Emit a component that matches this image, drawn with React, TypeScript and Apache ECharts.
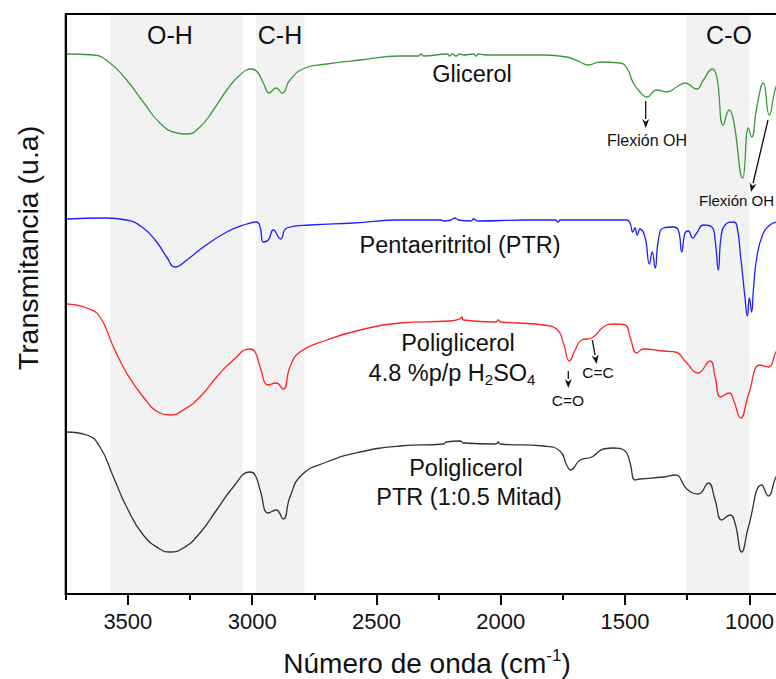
import React, { useEffect, useRef } from "react";
import * as echarts from "echarts";

// Wavenumber (cm-1), transmittance (arbitrary units, offset stacked)
const glicerol: [number, number][] = [
  [3746, 540], [3639, 539], [3572, 531], [3505, 514], [3438, 492], [3371, 471], [3303, 461], [3263, 460],
  [3210, 467], [3156, 484], [3102, 504], [3049, 519], [3002, 525], [2979, 522], [2955, 511], [2931, 501],
  [2904, 506], [2879, 501], [2848, 514], [2787, 526], [2700, 530], [2566, 534], [2405, 538], [2330, 538],
  [2320, 540], [2310, 538], [2215, 540], [2205, 538], [2195, 540], [2180, 538], [2165, 540], [2150, 539],
  [2110, 540], [2100, 538], [2090, 540], [2060, 539], [1829, 539], [1735, 537], [1681, 532],
  [1648, 529], [1601, 532], [1520, 531], [1493, 526], [1467, 511], [1440, 502], [1413, 497], [1373, 504],
  [1332, 502], [1292, 507], [1259, 511], [1212, 505], [1185, 514], [1149, 525], [1131, 517], [1105, 469],
  [1081, 484], [1064, 474], [1027, 416], [1004, 466], [991, 457], [970, 487], [944, 511], [920, 479],
  [893, 507], [870, 515],
];

const pentaeritritol: [number, number][] = [
  [3746, 375], [3592, 376], [3505, 374], [3438, 366], [3384, 352], [3344, 337], [3310, 327], [3263, 334],
  [3196, 347], [3102, 362], [3022, 370], [2982, 372], [2968, 367], [2955, 352], [2935, 354], [2915, 364],
  [2885, 355], [2861, 366], [2767, 369], [2593, 371], [2405, 374], [2240, 374], [2230, 373], [2200, 374],
  [2185, 376], [2170, 374], [2120, 373], [2110, 375], [2090, 373], [1900, 374], [1780, 374], [1770, 372],
  [1760, 374], [1493, 374], [1480, 371], [1469, 362], [1460, 366], [1451, 359], [1440, 365], [1420, 357],
  [1402, 330], [1391, 342], [1379, 326], [1366, 354], [1346, 366], [1306, 367], [1286, 364], [1272, 342],
  [1259, 361], [1246, 363], [1228, 356], [1212, 361], [1185, 369], [1151, 367], [1138, 354], [1125, 324],
  [1114, 357], [1098, 369], [1064, 372], [1051, 369], [1035, 337], [1018, 297], [1008, 278], [1000, 296],
  [991, 282], [984, 304], [970, 337], [944, 361], [917, 369], [893, 372], [870, 374],
];

const poliglicerolH2SO4: [number, number][] = [
  [3746, 290], [3665, 286], [3612, 277], [3558, 247], [3505, 221], [3438, 197], [3371, 181], [3330, 179],
  [3277, 184], [3210, 197], [3143, 217], [3076, 234], [3009, 245], [2988, 242], [2968, 227], [2935, 209],
  [2904, 211], [2875, 205], [2848, 227], [2808, 242], [2700, 254], [2566, 264], [2405, 271], [2204, 273],
  [2165, 275], [2157, 277], [2150, 274], [2020, 272], [2010, 274], [2000, 272], [1936, 271], [1829, 269],
  [1775, 265], [1748, 251], [1724, 233],
  [1701, 244], [1674, 254], [1634, 256], [1587, 267], [1547, 270], [1500, 269], [1480, 257], [1453, 241],
  [1427, 245], [1346, 243], [1298, 242], [1252, 231], [1208, 221], [1158, 233], [1138, 217], [1115, 197],
  [1081, 201], [1064, 194], [1035, 176], [1004, 199], [957, 229], [924, 227], [893, 242], [870, 250],
];

const poliglicerolPTR: [number, number][] = [
  [3746, 162], [3665, 159], [3612, 147], [3558, 117], [3505, 87], [3438, 59], [3371, 45], [3330, 42],
  [3277, 46], [3210, 61], [3143, 84], [3076, 107], [3009, 122], [2988, 119], [2968, 104], [2935, 81],
  [2904, 84], [2875, 75], [2848, 97], [2801, 119], [2700, 132], [2566, 142], [2405, 148], [2230, 150],
  [2220, 152], [2163, 153], [2150, 151], [2020, 150], [2010, 152], [2002, 150], [1829, 148], [1762, 143],
  [1735, 129], [1719, 124], [1681, 134], [1634, 137], [1587, 145],
  [1547, 146], [1500, 143], [1480, 131], [1460, 114], [1440, 115], [1346, 117], [1298, 119], [1252, 105],
  [1205, 100], [1165, 111], [1138, 94], [1111, 74], [1078, 79], [1058, 71], [1031, 42], [1004, 67],
  [950, 109], [924, 98], [893, 117], [870, 124],
];

const bands: [number, number][] = [[3570, 3040], [2985, 2790], [1255, 1000]];
const majorTicks = [3500, 3000, 2500, 2000, 1500, 1000, 500];
const minorTicks = [3750, 3250, 2750, 2250, 1750, 1250, 750];

const FONT = "'Liberation Sans', Arial, sans-serif";

function arrow(x1: number, y1: number, x2: number, y2: number): any[] {
  const a = Math.atan2(y2 - y1, x2 - x1);
  const L = 9, W = 3.5;
  const bx = x2 - L * Math.cos(a), by = y2 - L * Math.sin(a);
  const nx = -Math.sin(a), ny = Math.cos(a);
  return [
    { type: "line", shape: { x1, y1, x2: bx, y2: by }, style: { stroke: "#111", lineWidth: 1.3 }, z: 10 },
    {
      type: "polygon",
      shape: { points: [[x2, y2], [bx + nx * W, by + ny * W], [bx + L * 0.3 * Math.cos(a), by + L * 0.3 * Math.sin(a)], [bx - nx * W, by - ny * W]] },
      style: { fill: "#111" },
      z: 10,
    },
  ];
}

function txt(text: string, x: number, y: number, size: number, align = "center", extra: any = {}): any {
  return {
    type: "text",
    x,
    y,
    z: 10,
    style: { text, font: `${size}px ${FONT}`, fill: "#111", align, verticalAlign: "middle", ...extra },
  };
}

export default function App() {
  const ref = useRef<HTMLDivElement>(null);
  useEffect(() => {
    if (!ref.current) return;
    const chart = echarts.init(ref.current, undefined, { renderer: "svg" });
    const mk = (name: string, data: [number, number][], color: string) => ({
      name,
      type: "line",
      data,
      showSymbol: false,
      smooth: 0.5,
      lineStyle: { color, width: 1.3 },
      z: 3,
    });
    chart.setOption({
      animation: false,
      grid: {
        left: 65.7, top: 14, width: 808, height: 580, show: true, borderColor: "#000", borderWidth: 2,
        outerBoundsMode: "none", containLabel: false,
      },
      xAxis: [
        {
          type: "value",
          min: 500,
          max: 3750,
          interval: 500,
          inverse: true,
          position: "bottom",
          axisLine: { show: true, lineStyle: { color: "#000", width: 2 } },
          axisTick: { show: true, length: 11, lineStyle: { width: 2, color: "#000" }, customValues: majorTicks },
          axisLabel: {
            show: true, fontSize: 22, fontFamily: FONT, color: "#111", margin: 16, showMaxLabel: false,
            customValues: majorTicks, formatter: (v: number) => String(v),
          },
          splitLine: { show: false },
        },
        {
          type: "value",
          min: 500,
          max: 3750,
          interval: 250,
          inverse: true,
          position: "bottom",
          axisLine: { show: false },
          axisTick: { show: true, length: 6, lineStyle: { width: 2, color: "#000" }, customValues: minorTicks },
          axisLabel: { show: false },
          splitLine: { show: false },
        },
      ],
      yAxis: {
        type: "value",
        min: 0,
        max: 580,
        axisLine: { show: true, lineStyle: { color: "#000", width: 2 } },
        axisTick: { show: false },
        axisLabel: { show: false },
        splitLine: { show: false },
      },
      series: [
        {
          type: "line",
          data: [],
          z: 1,
          markArea: {
            silent: true,
            itemStyle: { color: "#f2f2f2" },
            data: bands.map(([a, b]) => [{ xAxis: a, yAxis: 1 }, { xAxis: b, yAxis: 579 }]),
          },
        },
        mk("Glicerol", glicerol, "#3c9a3c"),
        mk("Pentaeritritol (PTR)", pentaeritritol, "#2020ff"),
        mk("Poliglicerol 4.8 %p/p H2SO4", poliglicerolH2SO4, "#ff2424"),
        mk("Poliglicerol PTR (1:0.5 Mitad)", poliglicerolPTR, "#333333"),
      ],
      graphic: [
        txt("O-H", 170, 35, 25),
        txt("C-H", 280, 35, 25),
        txt("C-O", 729, 35, 25),
        txt("Glicerol", 472, 74, 23.5),
        txt("Pentaeritritol (PTR)", 460, 245, 23.5),
        txt("Poliglicerol", 458, 343, 23.5),
        {
          type: "text",
          x: 452,
          y: 373,
          z: 10,
          style: {
            text: "4.8 %p/p H{sub|2}SO{sub|4}",
            font: `23.5px ${FONT}`,
            fill: "#111",
            align: "center",
            verticalAlign: "middle",
            rich: { sub: { fontSize: 15, fontFamily: FONT, fill: "#111", padding: [12, 0, 0, 0] } },
          },
        },
        txt("Poliglicerol", 466, 468, 23.5),
        txt("PTR (1:0.5 Mitad)", 469, 497, 23.5),
        txt("Flexión OH", 647, 140, 16),
        txt("Flexión OH", 699, 200, 15, "left"),
        txt("C=O", 568, 400, 15.5),
        txt("C=C", 598, 372, 15.5),
        ...arrow(645.7, 101, 645.7, 128),
        ...arrow(768, 120, 751, 192),
        ...arrow(568.3, 371, 568.3, 388),
        ...arrow(592.3, 340, 596.7, 364),
        {
          type: "text",
          x: 427,
          y: 663,
          z: 10,
          style: {
            text: "Número de onda (cm{sup|-1})",
            font: `28px ${FONT}`,
            fill: "#111",
            align: "center",
            verticalAlign: "middle",
            rich: { sup: { fontSize: 17, fontFamily: FONT, fill: "#111", padding: [0, 0, 15, 0] } },
          },
        },
        {
          type: "text",
          x: 28,
          y: 248,
          rotation: Math.PI / 2,
          z: 10,
          style: { text: "Transmitancia (u.a)", font: `28.5px ${FONT}`, fill: "#111", align: "center", verticalAlign: "middle" },
        },
      ],
    });
    return () => chart.dispose();
  }, []);
  return <div ref={ref} style={{ width: 776, height: 679, position: "absolute", left: 0, top: 0 }} />;
}
